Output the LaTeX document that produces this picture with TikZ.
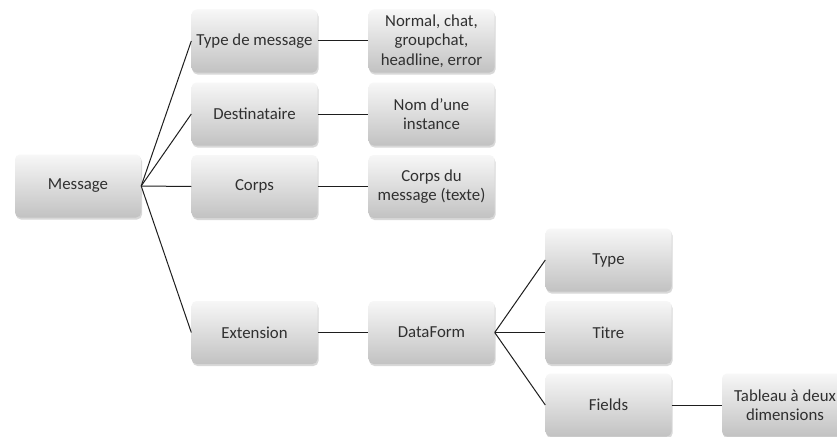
\documentclass[tikz,border=0pt]{standalone}
\usepackage{fontspec}
\setmainfont{Carlito}
\usetikzlibrary{shadows}
\definecolor{boxtop}{HTML}{F7F7F7}
\definecolor{boxbot}{HTML}{C2C2C2}
\definecolor{txt}{HTML}{303030}
\definecolor{edge}{HTML}{1E1E1E}
\tikzset{
  box/.style={rectangle, rounded corners=5pt, minimum width=126pt, minimum height=63pt,
    top color=boxtop, bottom color=boxbot, draw=none, text=txt, align=center,
    font=\fontsize{16.8}{19.5}\selectfont, inner sep=2pt,
    drop shadow={shadow xshift=1pt, shadow yshift=-2pt, opacity=0.25, fill=black!60}},
  link/.style={draw=edge, line width=1pt}
}
\begin{document}
\begin{tikzpicture}[x=1pt,y=-1pt]
\clip (0,0) rectangle (837,436);
\fill[white] (0,0) rectangle (837,436);
\node[box] (msg) at (78,186) {Message};
\node[box] (type) at (254.5,41) {Type de message};
\node[box] (dest) at (254.5,114) {Destinataire};
\node[box] (corps) at (254.5,186.5) {Corps};
\node[box] (ext) at (254.5,332.5) {Extension};
\node[box] (normal) at (431.5,41) {Normal, chat,\\groupchat,\\headline, error};
\node[box] (nom) at (431.5,114) {Nom d’une\\instance};
\node[box] (corpsdu) at (431.5,186.5) {Corps du\\message (texte)};
\node[box] (dataform) at (431.5,332.5) {DataForm};
\node[box] (t2) at (608.5,260) {Type};
\node[box] (titre) at (608.5,332.5) {Titre};
\node[box] (fields) at (608.5,405) {Fields};
\node[box] (tab) at (785,405) {Tableau à deux\\dimensions};
\foreach \n in {type,dest,corps,ext} \draw[link] (msg.east) -- (\n.west);
\draw[link] (type) -- (normal);
\draw[link] (dest) -- (nom);
\draw[link] (corps) -- (corpsdu);
\draw[link] (ext) -- (dataform);
\foreach \n in {t2,titre,fields} \draw[link] (dataform.east) -- (\n.west);
\draw[link] (fields) -- (tab);
\end{tikzpicture}
\end{document}
